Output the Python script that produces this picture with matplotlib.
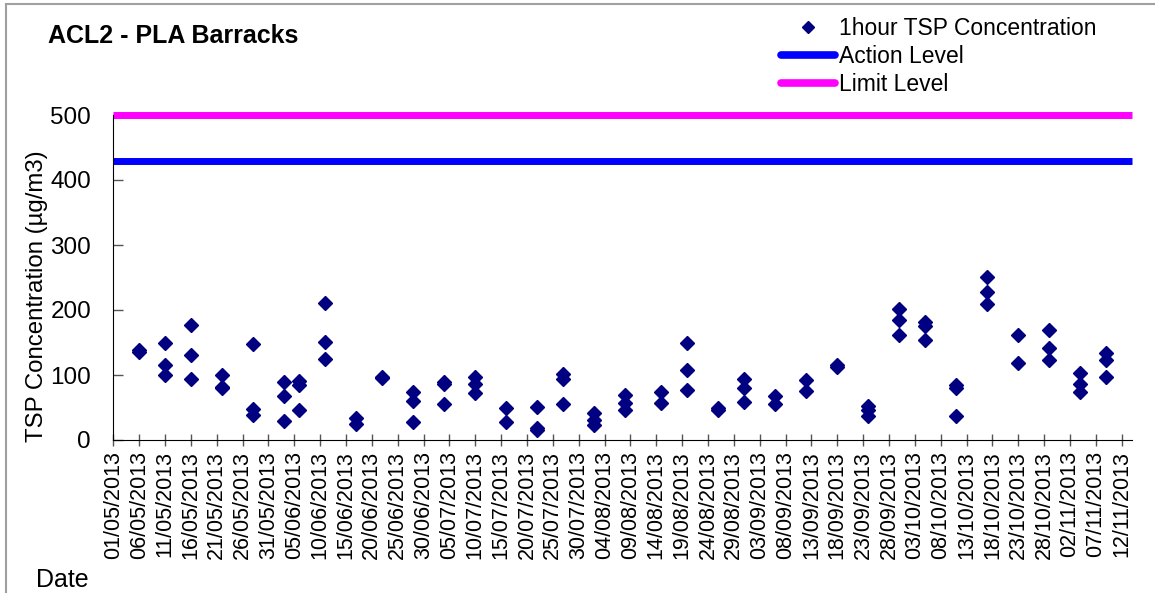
import pandas as pd
import matplotlib
matplotlib.use('Agg')
import matplotlib.pyplot as plt
import matplotlib.dates as mdates
from matplotlib.lines import Line2D

plt.rcParams['font.family'] = ['Liberation Sans', 'DejaVu Sans']

# sampling days and the 1-hour TSP readings taken on each day (ug/m3)
sample_dates = ['2013-05-06', '2013-05-11', '2013-05-16', '2013-05-22', '2013-05-28',
                '2013-06-03', '2013-06-06', '2013-06-11', '2013-06-17', '2013-06-22',
                '2013-06-28', '2013-07-04', '2013-07-10', '2013-07-16', '2013-07-22',
                '2013-07-27', '2013-08-02', '2013-08-08', '2013-08-15', '2013-08-20',
                '2013-08-26', '2013-08-31', '2013-09-06', '2013-09-12', '2013-09-18',
                '2013-09-24', '2013-09-30', '2013-10-05', '2013-10-11', '2013-10-17',
                '2013-10-23', '2013-10-29', '2013-11-04', '2013-11-09']
tsp_1hr = [[138, 135], [150, 115, 100], [177, 131, 94], [100, 82, 80], [148, 48, 38],
           [89, 68, 30], [91, 85, 46], [211, 151, 124], [34, 24], [97, 96],
           [74, 60, 28], [90, 86, 56], [97, 86, 72], [50, 28], [51, 18, 15],
           [101, 94, 56], [41, 31, 23], [69, 57, 46], [74, 57], [149, 107, 77],
           [50, 46], [94, 80, 59], [67, 55], [92, 76], [115, 112],
           [53, 46, 37], [202, 184, 162], [182, 176, 154], [84, 80, 37], [251, 228, 210],
           [162, 118], [170, 141, 123], [103, 86, 74], [134, 123, 97]]

action_level = 430
limit_level = 500

axis_start = '2013-05-01'
axis_end = '2013-11-14'
tick_step_days = 5
n_ticks = 40
y_ticks = [0, 100, 200, 300, 400, 500]

# flatten into point lists
x_pts = []
y_pts = []
for d, vals in zip(sample_dates, tsp_1hr):
    for v in vals:
        x_pts.append(pd.Timestamp(d))
        y_pts.append(v)

fig = plt.figure(figsize=(11.55, 5.97), dpi=100)
ax = fig.add_axes([113.3 / 1155, 1 - 440 / 597, (1132 - 113.3) / 1155, 325 / 597])

ax.plot(x_pts, y_pts, linestyle='none', marker='D', ms=7, color='#000080', zorder=3)
ax.axhline(action_level, color='#0000FF', lw=5, solid_capstyle='butt', clip_on=False)
ax.axhline(limit_level, color='#FF00FF', lw=5, solid_capstyle='butt', clip_on=False)

ax.set_xlim(pd.Timestamp(axis_start), pd.Timestamp(axis_end))
ax.set_ylim(0, 500)

ticks = pd.date_range(axis_start, periods=n_ticks, freq=f'{tick_step_days}D')
ax.set_xticks(ticks)
ax.xaxis.set_major_formatter(mdates.DateFormatter('%d/%m/%Y'))
ax.set_yticks(y_ticks)

ax.tick_params(axis='x', direction='inout', length=8, width=1, color='#555555',
               labelsize=15.5, rotation=90, pad=4)
ax.tick_params(axis='y', direction='in', length=7, width=1, color='#555555',
               labelsize=17.5, pad=16)

ax.spines['top'].set_visible(False)
ax.spines['right'].set_visible(False)
ax.spines['left'].set_color('black')
ax.spines['bottom'].set_color('black')

fig.text(48 / 1155, 1 - 43 / 597, 'ACL2 - PLA Barracks', fontsize=18, fontweight='bold',
         ha='left', va='baseline')
fig.text(37 / 1155, 1 - 296 / 597, 'TSP Concentration (µg/m3)', fontsize=17.3,
         rotation=90, ha='center', va='center')
fig.text(36 / 1155, 1 - 587 / 597, 'Date', fontsize=18, ha='left', va='baseline')

handles = [Line2D([], [], linestyle='none', marker='D', ms=6.6, color='#000080'),
           Line2D([], [], color='#0000FF', lw=5.5, solid_capstyle='round'),
           Line2D([], [], color='#FF00FF', lw=5.5, solid_capstyle='round')]
labels = ['1hour TSP Concentration', 'Action Level', 'Limit Level']
fig.legend(handles, labels, loc='upper left', bbox_to_anchor=(781 / 1155, 1 - 17 / 597),
           frameon=False, fontsize=16.5, handlelength=2.35, handletextpad=0.17,
           labelspacing=0.21, borderpad=0, borderaxespad=0)

# outer chart border (only top and left show in the crop)
fig.add_artist(Line2D([6 / 1155, 1], [1 - 4 / 597, 1 - 4 / 597], color='#a0a0a0', lw=1.5))
fig.add_artist(Line2D([6 / 1155, 6 / 1155], [1 - 4 / 597, 1 - 592 / 597], color='#a0a0a0', lw=1.5))

fig.savefig('out.png', dpi=100)
